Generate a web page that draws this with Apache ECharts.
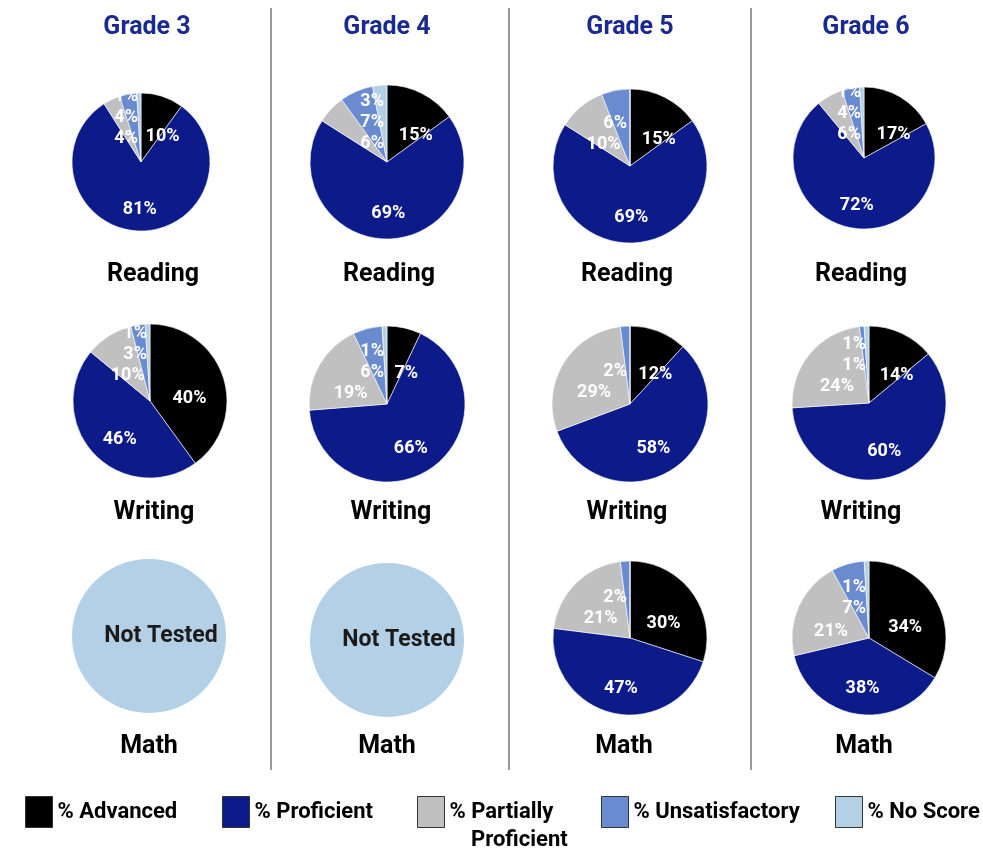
<!DOCTYPE html>
<html><head><meta charset="utf-8">
<script src="https://cdn.jsdelivr.net/npm/echarts@6/dist/echarts.min.js"></script>
<style>html,body{margin:0;padding:0;background:#fff}#c{width:983px;height:852px}</style>
</head><body><div id="c"></div>
<script>
// ---- data ----
const categories = ['% Advanced', '% Proficient', '% Partially Proficient', '% Unsatisfactory', '% No Score'];
const grades = ['Grade 3', 'Grade 4', 'Grade 5', 'Grade 6'];
const subjects = ['Reading', 'Writing', 'Math'];
const grade3Reading = [10, 81, 4, 4, 1];
const grade4Reading = [15, 69, 6, 7, 3];
const grade5Reading = [15, 69, 10, 6, 0];
const grade6Reading = [17, 72, 6, 4, 1];
const grade3Writing = [40, 46, 10, 3, 1];
const grade4Writing = [7, 66, 19, 6, 1];
const grade5Writing = [12, 58, 29, 2, 0];
const grade6Writing = [14, 60, 24, 1, 1];
const grade3Math = null; // Not Tested
const grade4Math = null; // Not Tested
const grade5Math = [30, 47, 21, 2, 0];
const grade6Math = [34, 38, 21, 7, 1];
const notTestedLabel = 'Not Tested';

// ---- layout / style ----
const FONT = "Roboto, 'Liberation Sans', sans-serif";
const colors = ['#000000', '#0d1b8a', '#c0c0c0', '#6a8bd0', '#b4d0e6'];
const table = [
  [grade3Reading, grade4Reading, grade5Reading, grade6Reading],
  [grade3Writing, grade4Writing, grade5Writing, grade6Writing],
  [grade3Math, grade4Math, grade5Math, grade6Math]
];
const pieGeom = [
  [[141,162,69],[387,162,77],[630,166,77],[864,158,71]],
  [[150,401,77],[387,404,78],[630,404,78],[869,403,77]],
  [[149,636,77],[387,640,77],[630,638,77],[869,638,77]]
];
const gradeX = [147, 387, 630, 866];
const subjX = [[153,389,627,861],[154,391,627,861],[149,387,624,864]];
const subjY = [272, 510, 744];
const LABEL_DY = 10;
const STACK_STEP = 21;

const chart = echarts.init(document.getElementById('c'), null, {renderer:'canvas'});
const series = [];

// label placement tweaks imitating the spreadsheet's "best fit":
// narrow first slice labels pushed right, tiny trailing slice labels stacked upward left of 12 o'clock
const placed = {};
function placeLabel(p) {
  if (!p.text) return {};
  const s = series[p.seriesIndex];
  const value = s.data[p.dataIndex].value;
  const cx = s.center[0];
  if (p.dataIndex === 0) return {dy: LABEL_DY, dx: value < 20 ? 10 : 0};
  if (p.dataIndex < 2) return {dy: LABEL_DY};
  if (p.dataIndex === 2 || !placed[p.seriesIndex]) placed[p.seriesIndex] = [];
  const list = placed[p.seriesIndex];
  const r = p.labelRect;
  const cyMid = r.y + r.height / 2;
  let x = r.x;
  if (value < 8) x = cx - 3 - r.width;
  let y = cyMid;
  let moved = true, guard = 0;
  while (moved && guard++ < 10) {
    moved = false;
    for (const q of list) {
      const ox = Math.min(x + r.width, q.x + q.width) - Math.max(x, q.x);
      if (ox > 1 && Math.abs(y - q.y) < STACK_STEP - 0.5) { y = q.y - STACK_STEP; moved = true; }
    }
  }
  list.push({x, y, width: r.width});
  return {dx: x - r.x, dy: y - cyMid + LABEL_DY};
}

table.forEach((row, r) => {
  row.forEach((vals, c) => {
    const g = pieGeom[r][c];
    if (vals) {
      series.push({
        type: 'pie', center: [g[0], g[1]], radius: [0, g[2]],
        startAngle: 90, clockwise: true, animation: false, silent: true,
        avoidLabelOverlap: false,
        itemStyle: {borderColor: '#ffffff', borderWidth: 0.6},
        label: {show: true, position: 'inside', color: '#fff', fontFamily: FONT, fontWeight: 'bold', fontSize: 18,
          lineHeight: 20, formatter: p => p.value > 0 ? p.value + '%' : ''},
        labelLayout: placeLabel,
        labelLine: {show: false},
        data: categories.map((name, i) => ({name, value: vals[i]}))
      });
    } else {
      series.push({
        type: 'pie', center: [g[0], g[1]], radius: [0, g[2]],
        animation: false, silent: true,
        itemStyle: {borderWidth: 0},
        label: {show: true, position: 'center', color: '#1a1a1a', fontFamily: FONT, fontWeight: 'bold', fontSize: 23,
          offset: [12, 0], formatter: notTestedLabel},
        labelLine: {show: false},
        data: [{name: categories[4], value: 100}]
      });
    }
  });
});

const titles = [];
grades.forEach((g, i) => titles.push({text: g, left: gradeX[i], top: 15, textAlign: 'center', padding: 0,
  textStyle: {fontFamily: FONT, fontWeight: 'bold', fontSize: 25, color: '#1b2a8f'}}));
subjects.forEach((s, r) => subjX[r].forEach(x => titles.push({text: s, left: x, top: subjY[r] - 10, textAlign: 'center', padding: 0,
  textStyle: {fontFamily: FONT, fontWeight: 'bold', fontSize: 25, color: '#000'}})));

const legendLeft = [25, 222, 417, 601, 835];
const legends = categories.map((name, i) => ({
  left: legendLeft[i], top: 796, orient: 'horizontal', padding: 0,
  data: [name], icon: 'rect', itemWidth: 27, itemHeight: 31, itemGap: 8,
  selectedMode: false,
  itemStyle: {borderColor: '#333', borderWidth: 1},
  textStyle: {fontFamily: FONT, fontWeight: 'bold', fontSize: 22, color: '#000', padding: [2,0,0,0]},
  formatter: n => n === '% Partially Proficient' ? '% Partially' : n
}));

chart.setOption({
  color: colors,
  title: titles,
  legend: legends,
  graphic: [
    ...[271, 509, 751].map(x => ({type: 'line', shape: {x1: x, y1: 8, x2: x, y2: 770}, style: {stroke: '#555', lineWidth: 1.2}, silent: true})),
    {type: 'text', left: 471, top: 829, style: {text: 'Proficient', font: "bold 22px " + FONT, fill: '#000'}}
  ],
  series
});
</script></body></html>
